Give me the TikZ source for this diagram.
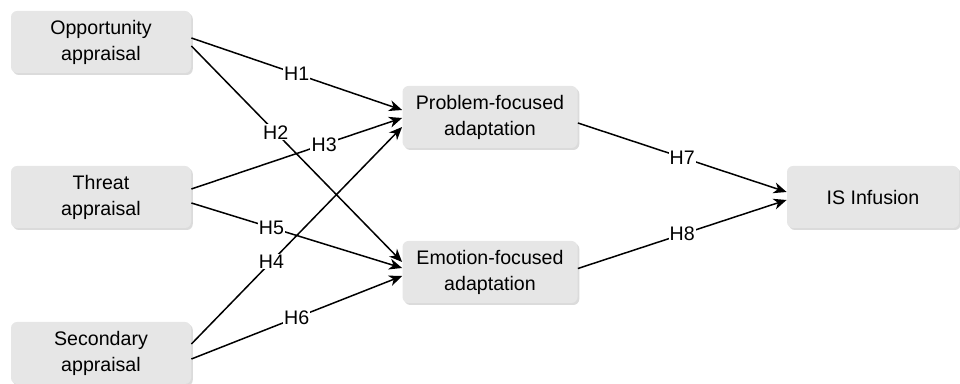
\documentclass[tikz,border=0pt]{standalone}
\usepackage{fontspec}
\setmainfont{Liberation Sans}
\usetikzlibrary{arrows.meta,shadows}
\definecolor{boxgray}{HTML}{E6E6E6}
\tikzstyle{construct}=[rectangle,rounded corners=3pt,fill=boxgray,align=center,minimum width=90pt,minimum height=31pt,inner sep=2pt,drop shadow={shadow xshift=0.9pt,shadow yshift=-1pt,fill=black!28},font=\fontsize{9.8}{13}\selectfont]
\tikzstyle{mediator}=[construct,minimum width=87.5pt]
\tikzstyle{link}=[-{Stealth[length=6.5pt,width=5.5pt,inset=2pt]},line width=0.75pt]
\tikzstyle{hyp}=[fill=white,inner sep=0.6pt,font=\fontsize{9.8}{11}\selectfont]

\begin{document}
\begin{tikzpicture}[x=0.5pt,y=-0.5pt]
                    \useasboundingbox (0,0) rectangle (960,384);
                    \node (opp) at (101,42) [construct] {Opportunity\\appraisal};
                    \node (thr) at (101,197) [construct] {Threat\\appraisal};
                    \node (sec) at (101,353) [construct] {Secondary\\appraisal};
                    \node (prob) at (490,117) [mediator] {Problem-focused\\adaptation};
                    \node (emo) at (490,272) [mediator] {Emotion-focused\\adaptation};
                    \node (inf) at (873,197) [mediator,minimum width=86pt] {IS Infusion};

                    \draw [link] ([yshift=2pt]opp.east) -- ([yshift=3.5pt]prob.west) node [hyp,pos=0.5] {H1};
                    \draw [link] ([yshift=-2pt]opp.east) -- ([yshift=5pt]emo.west) node [hyp,pos=0.4] {H2};
                    \draw [link] ([yshift=4pt]thr.east) -- ([yshift=-0.5pt]prob.west) node [hyp,pos=0.63] {H3};
                    \draw [link] ([yshift=4.5pt]sec.east) -- ([yshift=-5pt]prob.west) node [hyp,pos=0.38] {H4};
                    \draw [link] ([yshift=-3pt]thr.east) -- ([yshift=2pt]emo.west) node [hyp,pos=0.38] {H5};
                    \draw [link] ([yshift=-3pt]sec.east) -- ([yshift=-2pt]emo.west) node [hyp,pos=0.5] {H6};
                    \draw [link] ([yshift=-3pt]prob.east) -- ([yshift=2.5pt]inf.west) node [hyp,pos=0.5] {H7};
                    \draw [link] ([yshift=1.75pt]emo.east) -- ([yshift=-1.5pt]inf.west) node [hyp,pos=0.5] {H8};
                \end{tikzpicture}
\end{document}
